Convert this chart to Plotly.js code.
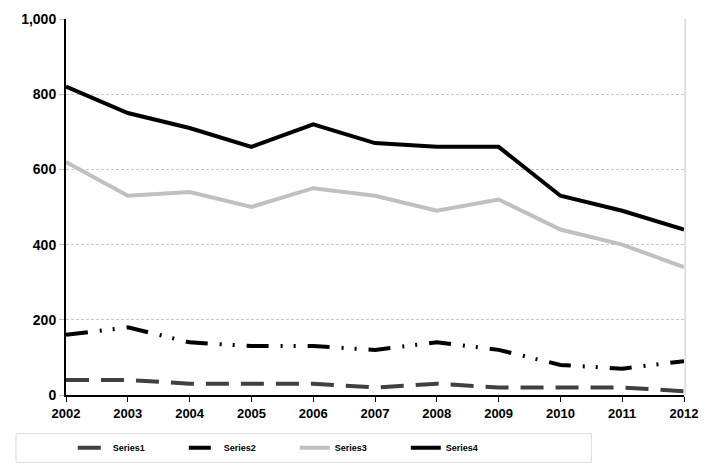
<!DOCTYPE html>
<html>
<head>
<meta charset="utf-8">
<script src="https://cdn.plot.ly/plotly-3.0.1.min.js"></script>
<style>html,body{margin:0;padding:0;background:#fff;}#chart{width:709px;height:474px;}</style>
</head>
<body>
<div id="chart"></div>
<script>
var years = [2002, 2003, 2004, 2005, 2006, 2007, 2008, 2009, 2010, 2011, 2012];
var series1 = [40, 40, 30, 30, 30, 20, 30, 20, 20, 20, 10];
var series2 = [160, 180, 140, 130, 130, 120, 140, 120, 80, 70, 90];
var series3 = [620, 530, 540, 500, 550, 530, 490, 520, 440, 400, 340];
var series4 = [820, 750, 710, 660, 720, 670, 660, 660, 530, 490, 440];
var names = ['Series1', 'Series2', 'Series3', 'Series4'];

var traces = [
  {x: years, y: series1, name: names[0], mode: 'lines',
   line: {color: '#404040', width: 4, dash: '23px,12px'}},
  {x: years, y: series2, name: names[1], mode: 'lines',
   line: {color: '#000000', width: 4, dash: '22px,12px,2px,11px,2px,12px'}},
  {x: years, y: series3, name: names[2], mode: 'lines',
   line: {color: '#c0c0c0', width: 4}},
  {x: years, y: series4, name: names[3], mode: 'lines',
   line: {color: '#000000', width: 4}}
];

var layout = {
  width: 709, height: 474,
  margin: {l: 66, r: 25, t: 19, b: 76},
  paper_bgcolor: '#ffffff', plot_bgcolor: '#ffffff',
  font: {family: 'Liberation Sans, Arial, sans-serif', color: '#000'},
  showlegend: true,
  xaxis: {
    range: [2002, 2012], dtick: 1, tick0: 2002,
    showgrid: false, zeroline: false,
    showline: true, linecolor: '#000', linewidth: 2,
    ticks: 'outside', ticklen: 5, tickcolor: '#000',
    tickfont: {size: 13, family: 'Liberation Sans, Arial, sans-serif', weight: 'bold'}
  },
  yaxis: {
    range: [0, 1000], dtick: 200, tickformat: ',d',
    showgrid: true, gridcolor: '#c8c8c8', griddash: '3px,2px', gridwidth: 1,
    zeroline: false,
    showline: true, linecolor: '#000', linewidth: 2,
    ticks: 'outside', ticklen: 5, tickcolor: '#c0c0c0',
    tickfont: {size: 14, family: 'Liberation Sans, Arial, sans-serif', weight: 'bold'}
  },
  legend: {
    orientation: 'h', x: 0.011, xanchor: 'left', y: -0.14, yanchor: 'middle',
    bgcolor: 'rgba(0,0,0,0)', borderwidth: 0,
    entrywidth: 66, entrywidthmode: 'pixels', itemwidth: 30,
    font: {size: 9, family: 'Liberation Sans, Arial, sans-serif', weight: 'bold'}
  },
  shapes: [
    {type: 'rect', xref: 'paper', yref: 'paper', x0: -0.081, x1: 0.85, y0: -0.103, y1: -0.179,
     line: {color: '#d9d9d9', width: 1}, fillcolor: 'rgba(0,0,0,0)', layer: 'below'},
    {type: 'line', xref: 'paper', yref: 'paper', x0: 1.002, x1: 1.002, y0: 0, y1: 1,
     line: {color: '#e0e0e0', width: 2}}
  ]
};

Plotly.newPlot('chart', traces, layout, {displayModeBar: false, staticPlot: true});
</script>
</body>
</html>
